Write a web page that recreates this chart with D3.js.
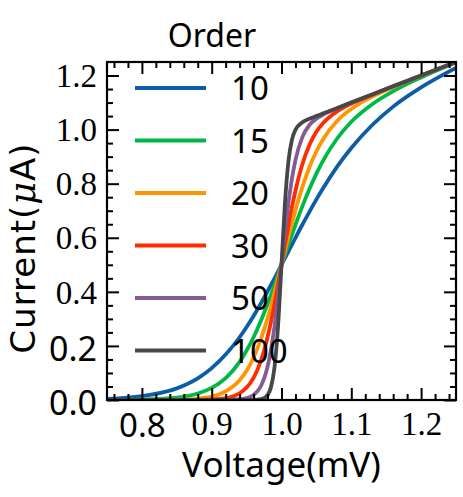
<!DOCTYPE html>
<html>
<head>
<meta charset="utf-8">
<script src="https://cdn.jsdelivr.net/npm/d3@7"></script>
<style>
  body { margin: 0; background: #fff; }
  .sans { font-family: "Noto Sans", "Open Sans", sans-serif; }
  .serif { font-family: "Liberation Serif", "DejaVu Serif", serif; }
  .tick line { stroke: #000; stroke-width: 2; }
</style>
</head>
<body>
<div id="chart"></div>
<script>
// --- data ---
const voltage = [0.75, 0.8, 0.85, 0.88, 0.9, 0.92, 0.94, 0.95, 0.96, 0.97, 0.975, 0.98, 0.985, 0.99, 0.995,
                 1.0, 1.005, 1.01, 1.015, 1.02, 1.03, 1.04, 1.05, 1.06, 1.08, 1.1, 1.13, 1.16, 1.2, 1.25];

const order10  = [0.004, 0.014, 0.043, 0.080, 0.118, 0.168, 0.232, 0.270, 0.311, 0.355, 0.378, 0.402, 0.426, 0.450, 0.475,
                  0.500, 0.525, 0.550, 0.575, 0.600, 0.649, 0.696, 0.742, 0.785, 0.864, 0.932, 1.017, 1.085, 1.156, 1.228];
const order15  = [0.000, 0.002, 0.009, 0.024, 0.045, 0.081, 0.141, 0.183, 0.232, 0.290, 0.322, 0.355, 0.390, 0.426, 0.463,
                  0.500, 0.538, 0.575, 0.612, 0.648, 0.717, 0.780, 0.837, 0.887, 0.968, 1.029, 1.094, 1.142, 1.193, 1.248];
const order20  = [0.000, 0.000, 0.001, 0.005, 0.013, 0.032, 0.073, 0.108, 0.157, 0.221, 0.260, 0.302, 0.348, 0.397, 0.448,
                  0.500, 0.552, 0.604, 0.654, 0.702, 0.788, 0.861, 0.919, 0.966, 1.033, 1.076, 1.122, 1.157, 1.199, 1.250];
const order30  = [0.000, 0.000, 0.000, 0.001, 0.002, 0.007, 0.025, 0.046, 0.082, 0.142, 0.182, 0.232, 0.290, 0.355, 0.426,
                  0.500, 0.575, 0.647, 0.714, 0.774, 0.873, 0.943, 0.992, 1.025, 1.068, 1.096, 1.129, 1.160, 1.200, 1.250];
const order50  = [0.000, 0.000, 0.000, 0.000, 0.000, 0.000, 0.003, 0.007, 0.019, 0.049, 0.079, 0.123, 0.187, 0.273, 0.380,
                  0.500, 0.621, 0.729, 0.819, 0.887, 0.973, 1.017, 1.040, 1.056, 1.079, 1.100, 1.130, 1.160, 1.200, 1.250];
const order100 = [0.000, 0.000, 0.000, 0.000, 0.000, 0.000, 0.000, 0.000, 0.000, 0.003, 0.007, 0.018, 0.048, 0.121, 0.271,
                  0.500, 0.730, 0.884, 0.963, 0.999, 1.027, 1.040, 1.050, 1.060, 1.080, 1.100, 1.130, 1.160, 1.200, 1.250];

const orders = [10, 15, 20, 30, 50, 100];
const seriesValues = [order10, order15, order20, order30, order50, order100];
const colors = ['#0C5DA5', '#00B945', '#FF9500', '#FF2C00', '#845B97', '#474747'];

const xTickValues = [0.8, 0.9, 1.0, 1.1, 1.2];
const yTickValues = [0.0, 0.2, 0.4, 0.6, 0.8, 1.0, 1.2];
// these labels come out in the plain sans font, the rest in the serif math font
const sansXLabels = ['0.8'];
const sansYLabels = ['0.0', '0.2'];

// --- layout ---
const width = 463, height = 497;
const plot = { left: 107, right: 456, top: 62, bottom: 400 };

const svg = d3.select('#chart').append('svg')
    .attr('width', width)
    .attr('height', height);

const x = d3.scaleLinear().domain([0.75, 1.25]).range([plot.left, plot.right]);
const y = d3.scaleLinear().domain([0, 1.25]).range([plot.bottom, plot.top]);

svg.append('clipPath').attr('id', 'clip')
    .append('rect')
    .attr('x', plot.left).attr('y', plot.top)
    .attr('width', plot.right - plot.left).attr('height', plot.bottom - plot.top);

// curves
const line = d3.line()
    .x((d, i) => x(voltage[i]))
    .y(d => y(d))
    .curve(d3.curveMonotoneX);

svg.append('g').attr('clip-path', 'url(#clip)')
    .selectAll('path')
    .data(seriesValues)
    .join('path')
    .attr('d', line)
    .attr('fill', 'none')
    .attr('stroke', (d, i) => colors[i])
    .attr('stroke-width', 3.8)
    .attr('stroke-linejoin', 'round');

// ticks on all four sides, pointing inward
const fmt = d3.format('.1f');
const xMinor = d3.range(0.76, 1.25, 0.02).filter(v => Math.abs(v * 10 - Math.round(v * 10)) > 1e-6);
const yMinor = d3.range(0.05, 1.25, 0.05).filter(v => Math.abs(v * 5 - Math.round(v * 5)) > 1e-6);

function addAxis(axis, tx, ty) {
    const g = svg.append('g').attr('transform', `translate(${tx},${ty})`).call(axis);
    g.select('.domain').remove();
    return g;
}

const xAxisG = addAxis(d3.axisBottom(x).tickValues(xTickValues).tickSize(-12).tickPadding(12).tickFormat(fmt), 0, plot.bottom);
addAxis(d3.axisBottom(x).tickValues(xMinor).tickSize(-6).tickFormat(''), 0, plot.bottom);
addAxis(d3.axisTop(x).tickValues(xTickValues).tickSize(-12).tickFormat(''), 0, plot.top);
addAxis(d3.axisTop(x).tickValues(xMinor).tickSize(-6).tickFormat(''), 0, plot.top);

const yAxisG = addAxis(d3.axisLeft(y).tickValues(yTickValues).tickSize(-12).tickPadding(10).tickFormat(fmt), plot.left, 0);
addAxis(d3.axisLeft(y).tickValues(yMinor).tickSize(-6).tickFormat(''), plot.left, 0);
addAxis(d3.axisRight(y).tickValues(yTickValues).tickSize(-12).tickFormat(''), plot.right, 0);
addAxis(d3.axisRight(y).tickValues(yMinor).tickSize(-6).tickFormat(''), plot.right, 0);

xAxisG.selectAll('text')
    .attr('fill', '#000')
    .attr('class', function () { return sansXLabels.includes(this.textContent) ? 'sans' : 'serif'; })
    .style('font-size', '33px')
    .attr('dy', function () { return sansXLabels.includes(this.textContent) ? '0.76em' : '0.70em'; });
xAxisG.attr('font-size', null).attr('font-family', null);

yAxisG.selectAll('text')
    .attr('fill', '#000')
    .attr('class', function () { return sansYLabels.includes(this.textContent) ? 'sans' : 'serif'; })
    .style('font-size', function () { return sansYLabels.includes(this.textContent) ? '34px' : '33px'; })
    .attr('dy', function () { return sansYLabels.includes(this.textContent) ? '0.42em' : '0.34em'; });
yAxisG.attr('font-size', null).attr('font-family', null);

// frame
svg.append('rect')
    .attr('x', plot.left).attr('y', plot.top)
    .attr('width', plot.right - plot.left).attr('height', plot.bottom - plot.top)
    .attr('fill', 'none').attr('stroke', '#000').attr('stroke-width', 2.2);

// axis titles
svg.append('text')
    .attr('class', 'sans')
    .attr('x', (plot.left + plot.right) / 2).attr('y', 477)
    .attr('text-anchor', 'middle')
    .style('font-size', '35px')
    .text('Voltage(mV)');

const yTitle = svg.append('text')
    .attr('transform', 'translate(35,248) rotate(-90)')
    .attr('text-anchor', 'middle')
    .style('font-family', '"DejaVu Sans", sans-serif')
    .style('font-size', '34px')
    .style('letter-spacing', '1px');
yTitle.append('tspan').text('Current(');
yTitle.append('tspan')
    .style('font-family', '"DejaVu Serif", serif')
    .style('font-style', 'italic')
    .style('font-size', '35px')
    .text('μ');
yTitle.append('tspan').text('A)');

// legend
const legend = svg.append('g');
legend.append('text')
    .attr('class', 'sans')
    .attr('x', 212).attr('y', 47)
    .attr('text-anchor', 'middle')
    .style('font-size', '32px')
    .text('Order');

const rows = legend.selectAll('g.row')
    .data(orders)
    .join('g')
    .attr('class', 'row')
    .attr('transform', (d, i) => `translate(0,${88 + i * 52.5})`);

rows.append('line')
    .attr('x1', 135).attr('x2', 206)
    .attr('stroke', (d, i) => colors[i])
    .attr('stroke-width', 3.8);

rows.append('text')
    .attr('class', 'sans')
    .attr('x', 231).attr('y', 12)
    .style('font-size', '33px')
    .text(d => d);
</script>
</body>
</html>
